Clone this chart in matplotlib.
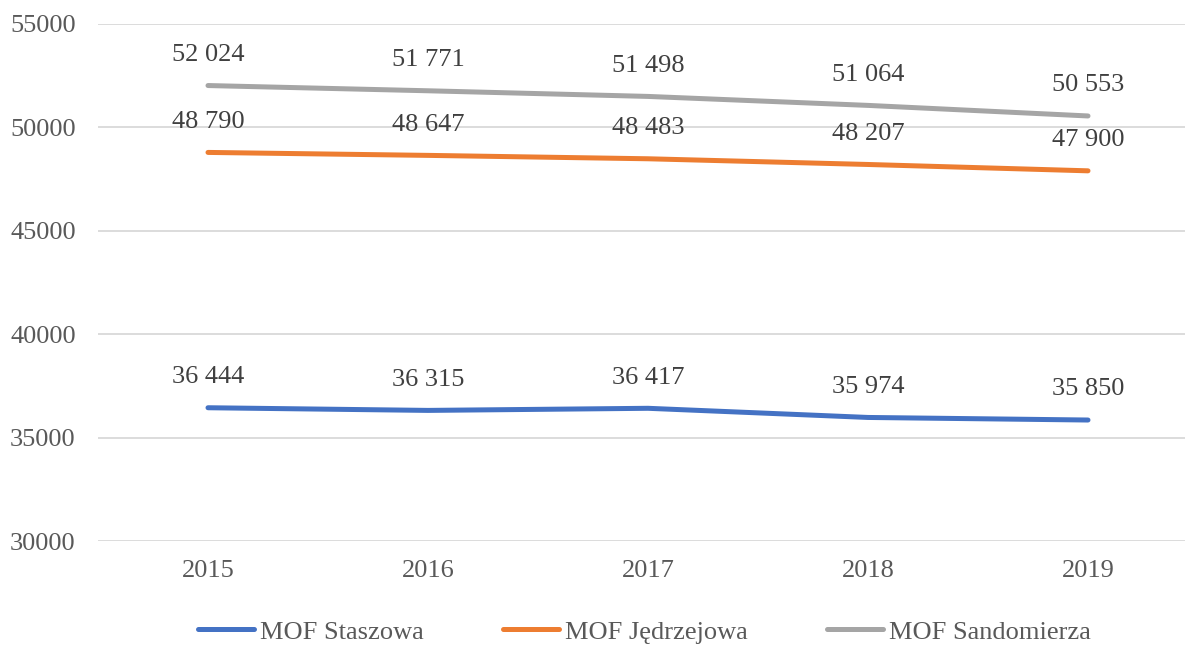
import matplotlib.pyplot as plt

years = ['2015', '2016', '2017', '2018', '2019']
staszowa = [36444, 36315, 36417, 35974, 35850]
jedrzejowa = [48790, 48647, 48483, 48207, 47900]
sandomierza = [52024, 51771, 51498, 51064, 50553]

series = [
    ('MOF Staszowa', staszowa, '#4472C4'),
    ('MOF Jędrzejowa', jedrzejowa, '#ED7D31'),
    ('MOF Sandomierza', sandomierza, '#A5A5A5'),
]

plt.rcParams['font.family'] = ['Liberation Serif', 'DejaVu Serif']
text_color = '#595959'

fig = plt.figure(figsize=(11.85, 6.46), dpi=100)
ax = fig.add_axes([98 / 1185, 105 / 646, 1100 / 1185, 517 / 646])

x = list(range(len(years)))
for name, vals, color in series:
    ax.plot(x, vals, color=color, lw=3.6, solid_capstyle='round', label=name)
    for xi, v in zip(x, vals):
        ax.annotate(f'{v:,}'.replace(',', ' '), (xi, v), xytext=(0, 22),
                    textcoords='offset points', ha='center', va='center',
                    fontsize=19, color='#404040')

ax.set_xlim(-0.5, 4.5)
ax.set_ylim(30000, 55000)
ax.set_yticks(range(30000, 55001, 5000))
ax.set_xticks(x)
ax.set_xticklabels(years)
ax.tick_params(axis='both', length=0, labelsize=19, labelcolor=text_color)
ax.tick_params(axis='y', pad=16)
ax.tick_params(axis='x', pad=14)
ax.grid(axis='y', color='#D9D9D9', lw=1.3)
ax.set_axisbelow(True)
for s in ax.spines.values():
    s.set_visible(False)

fig.legend(loc='center', bbox_to_anchor=(0.544, 0.022), ncol=3, frameon=False,
           fontsize=19, handlelength=2.1, handletextpad=0.25, columnspacing=3.0,
           labelcolor=text_color)

fig.savefig('out.png', dpi=100)
